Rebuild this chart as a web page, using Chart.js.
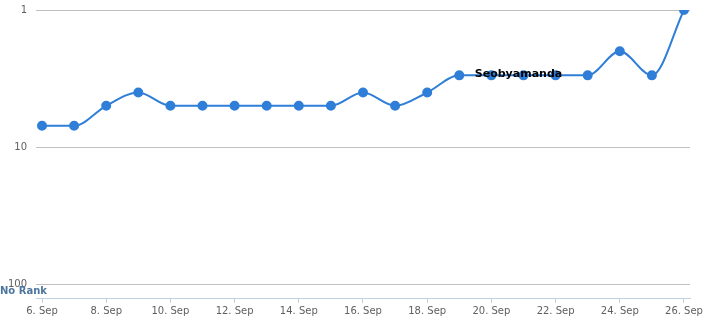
<!DOCTYPE html>
<html>
<head>
<meta charset="utf-8">
<script src="https://cdn.jsdelivr.net/npm/chart.js@4"></script>
<style>
  html, body { margin: 0; padding: 0; background: #fff; }
  #wrap { width: 704px; height: 324px; position: relative; }
</style>
</head>
<body>
<div id="wrap"><canvas id="chart"></canvas></div>
<script>
const days = ["6. Sep", "7. Sep", "8. Sep", "9. Sep", "10. Sep", "11. Sep", "12. Sep",
  "13. Sep", "14. Sep", "15. Sep", "16. Sep", "17. Sep", "18. Sep", "19. Sep",
  "20. Sep", "21. Sep", "22. Sep", "23. Sep", "24. Sep", "25. Sep", "26. Sep"];
const ranks = [7, 7, 5, 4, 5, 5, 5, 5, 5, 5, 4, 5, 4, 3, 3, 3, 3, 3, 2, 3, 1];
const rankTicks = [1, 10, 100];
const seriesName = "Seobyamanda";
const noRankLabel = "No Rank";

const font = "'DejaVu Sans', Verdana, sans-serif";

const extraText = {
  id: "extraText",
  afterDatasetsDraw(chart) {
    const { ctx, scales } = chart;
    ctx.save();
    // series name over the line
    ctx.font = "bold 11px " + font;
    ctx.fillStyle = "#000";
    ctx.textAlign = "center";
    ctx.textBaseline = "middle";
    ctx.fillText(seriesName, scales.x.getPixelForValue(15) - 5, scales.y.getPixelForValue(3) - 1);
    // no rank label
    ctx.font = "bold 10px " + font;
    ctx.fillStyle = "#4d759e";
    ctx.textAlign = "left";
    ctx.fillText(noRankLabel, 0, scales.y.getPixelForValue(100) + 7);
    ctx.restore();
  }
};

new Chart(document.getElementById("chart"), {
  type: "line",
  data: {
    datasets: [{
      data: ranks.map((r, i) => ({ x: i, y: r })),
      borderColor: "#2f7ed8",
      backgroundColor: "#2f7ed8",
      borderWidth: 2,
      pointRadius: 4,
      pointHoverRadius: 5,
      cubicInterpolationMode: "monotone",
      fill: false,
    }],
  },
  options: {
    responsive: true,
    maintainAspectRatio: false,
    animation: false,
    layout: { padding: { top: 10, right: 14, left: 0, bottom: 0 } },
    plugins: { legend: { display: false }, tooltip: { enabled: false } },
    scales: {
      x: {
        type: "linear",
        min: -0.187,
        max: 20.187,
        afterBuildTicks: (s) => { s.ticks = days.map((d, i) => ({ value: i })).filter((t) => t.value % 2 === 0); },
        afterFit: (s) => { s.height = 26; s.paddingLeft = 0; s.paddingRight = 0; },
        ticks: {
          callback: (v) => days[v],
          color: "#606060",
          font: { family: font, size: 10 },
          padding: 2,
          maxRotation: 0,
          autoSkip: false,
        },
        grid: { drawOnChartArea: false, drawTicks: true, tickLength: 5, color: "#c0d0e0" },
        border: { color: "#c0d0e0" },
      },
      y: {
        type: "logarithmic",
        reverse: true,
        min: 1,
        max: 126.5,
        afterBuildTicks: (s) => { s.ticks = rankTicks.map((v) => ({ value: v })); },
        afterFit: (s) => { s.width = 36; s.paddingTop = 0; s.paddingBottom = 0; },
        ticks: {
          callback: (v) => String(v),
          color: "#606060",
          font: { family: font, size: 10 },
          padding: 9,
        },
        grid: { color: "#c0c0c0", drawTicks: false },
        border: { display: false },
      },
    },
  },
  plugins: [extraText],
});
</script>
</body>
</html>
